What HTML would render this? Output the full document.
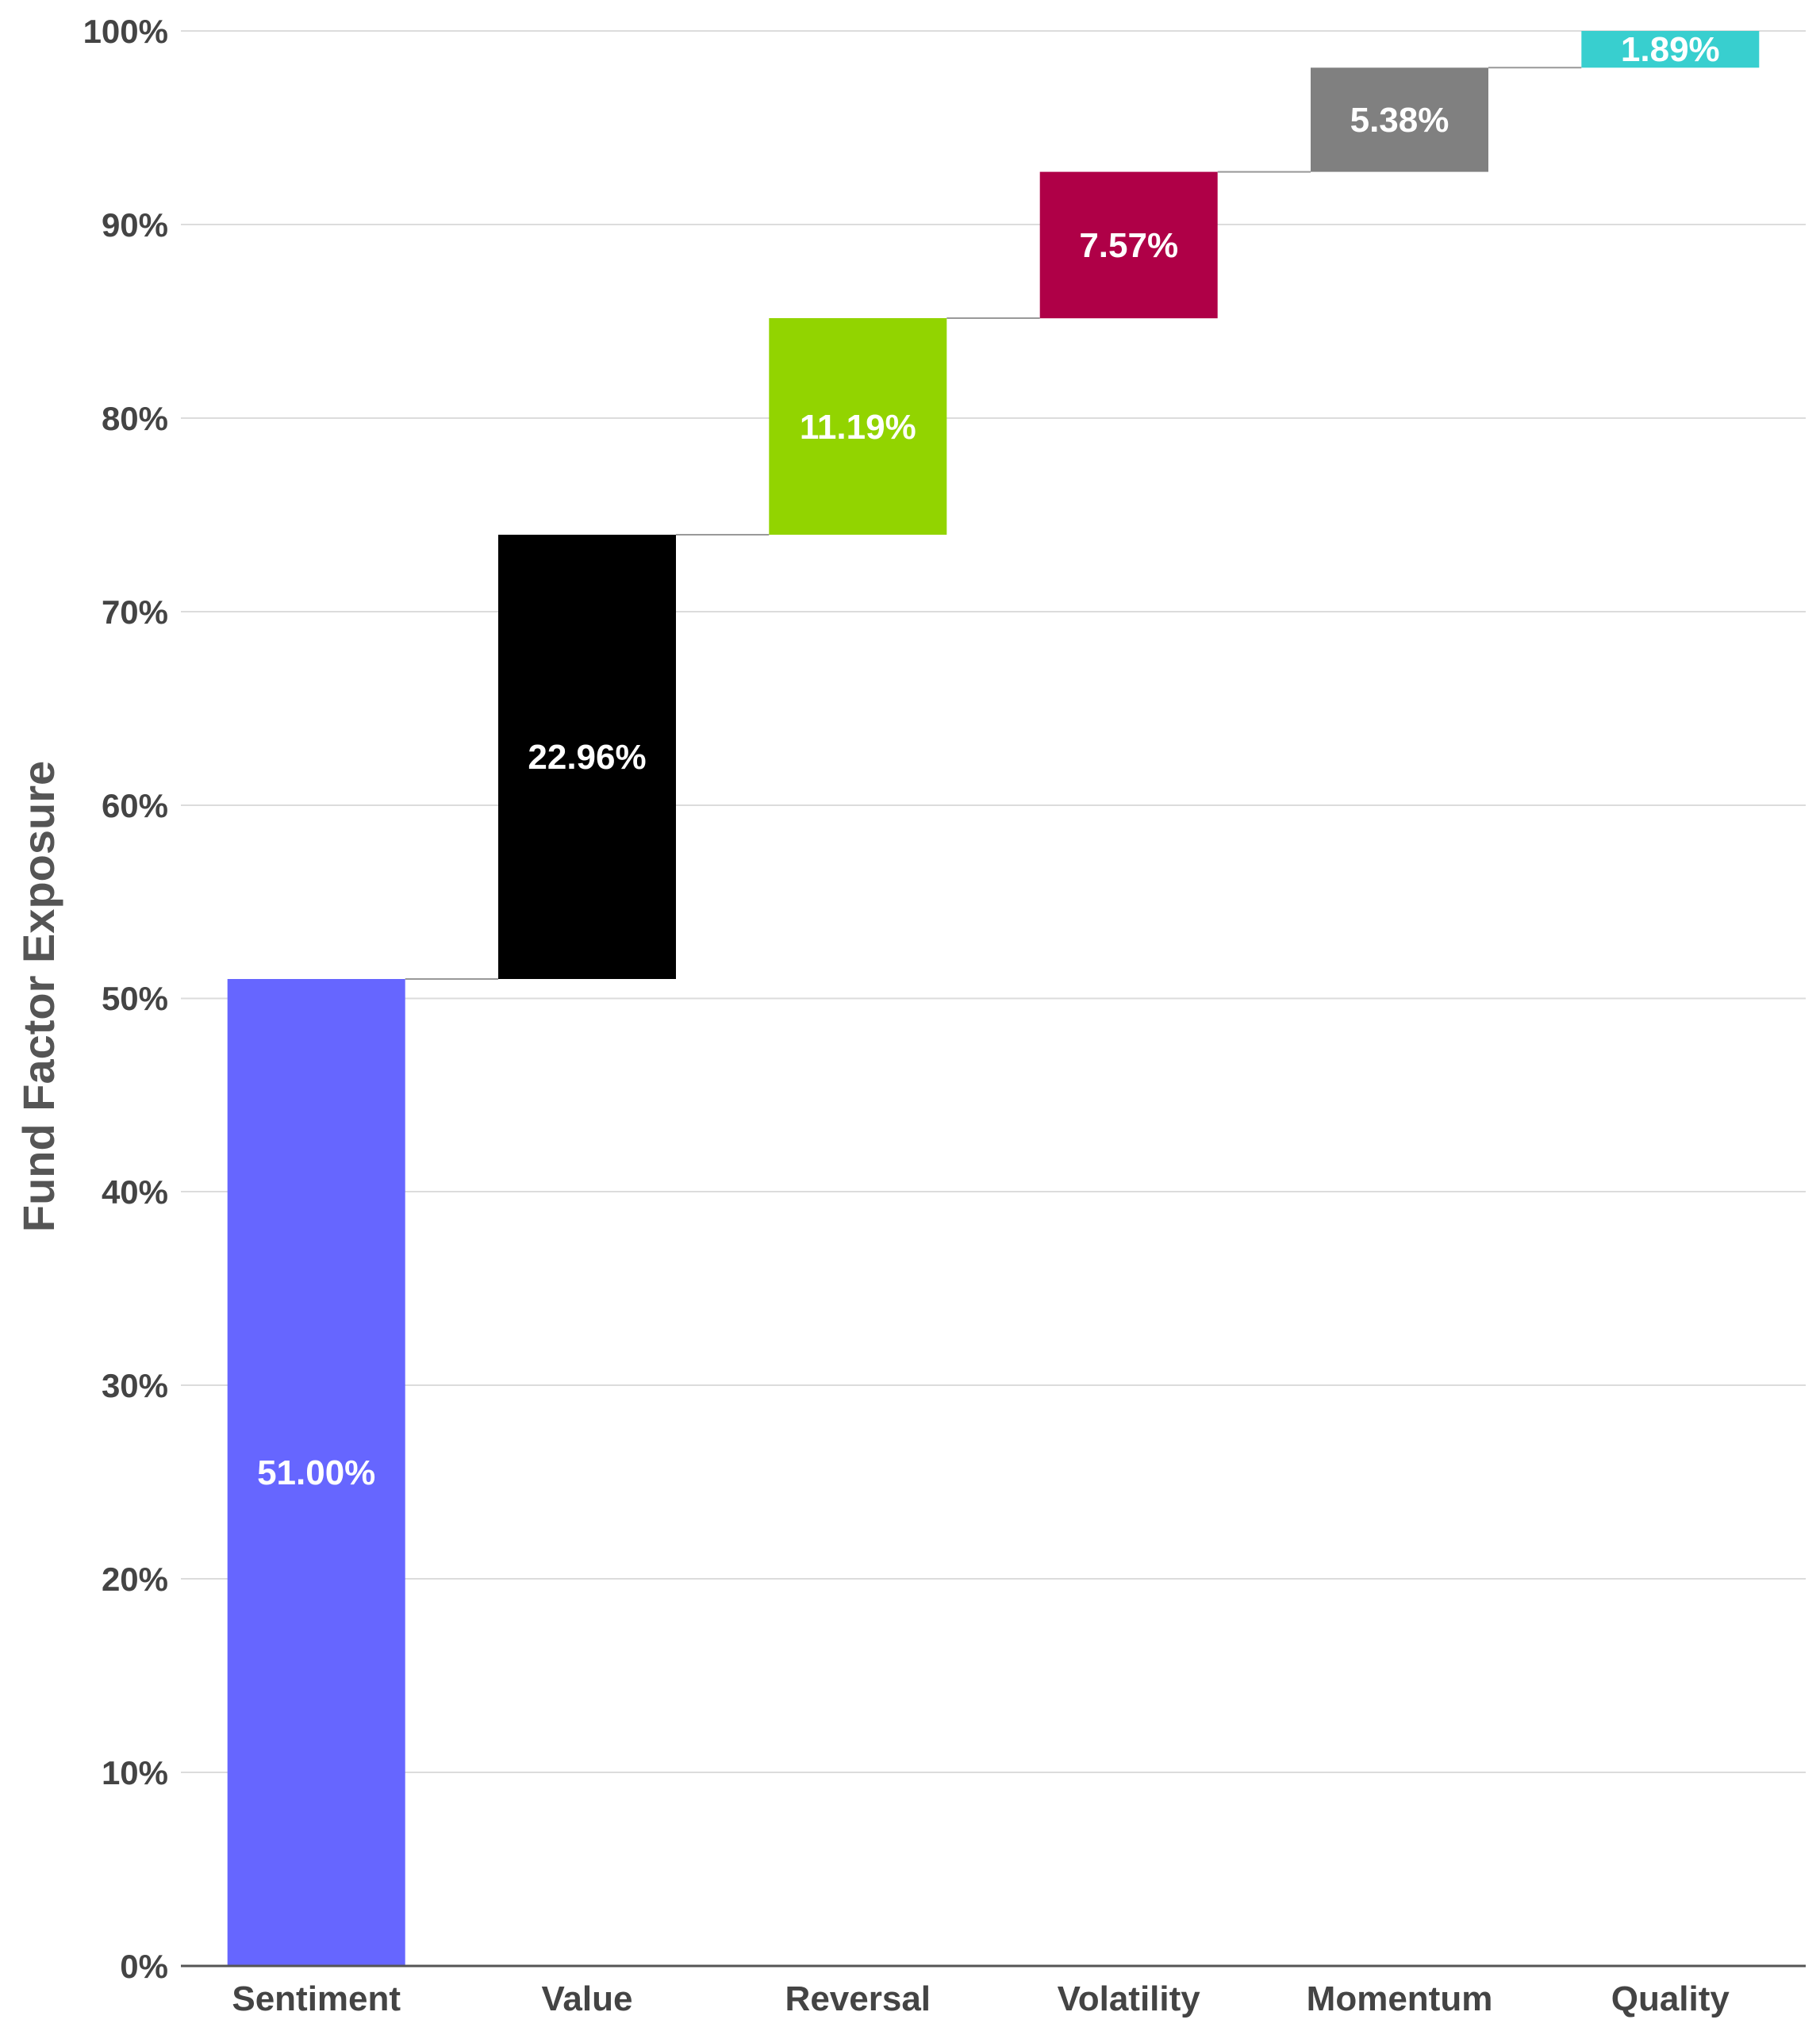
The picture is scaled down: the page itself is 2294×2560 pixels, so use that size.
<!DOCTYPE html>
<html><head><meta charset="utf-8"><style>
html,body{margin:0;padding:0;background:#fff;}
svg{display:block;font-family:"Liberation Sans",sans-serif;}
</style></head><body>
<svg width="2294" height="2560" viewBox="0 0 2294 2560" xmlns="http://www.w3.org/2000/svg">
<g stroke="#dcdcdc" stroke-width="2">
<line x1="228" x2="2276" y1="39" y2="39"/>
<line x1="228" x2="2276" y1="283" y2="283"/>
<line x1="228" x2="2276" y1="527" y2="527"/>
<line x1="228" x2="2276" y1="771" y2="771"/>
<line x1="228" x2="2276" y1="1015" y2="1015"/>
<line x1="228" x2="2276" y1="1258.5" y2="1258.5"/>
<line x1="228" x2="2276" y1="1502" y2="1502"/>
<line x1="228" x2="2276" y1="1746" y2="1746"/>
<line x1="228" x2="2276" y1="1990" y2="1990"/>
<line x1="228" x2="2276" y1="2234" y2="2234"/>
</g>
<g font-size="42" font-weight="bold" fill="#444" text-anchor="end">
<text x="212" y="54">100%</text>
<text x="212" y="298">90%</text>
<text x="212" y="542">80%</text>
<text x="212" y="786">70%</text>
<text x="212" y="1030">60%</text>
<text x="212" y="1273">50%</text>
<text x="212" y="1517">40%</text>
<text x="212" y="1761">30%</text>
<text x="212" y="2005">20%</text>
<text x="212" y="2249">10%</text>
<text x="212" y="2493">0%</text>
</g>
<text transform="translate(68,1256) rotate(-90)" font-size="56" font-weight="bold" fill="#555" text-anchor="middle">Fund Factor Exposure</text>
<rect x="286.7" y="1234" width="224" height="1244" fill="#6666ff"/>
<rect x="628" y="674" width="224" height="560" fill="#000"/>
<rect x="969.3" y="401" width="224" height="273" fill="#92d400"/>
<rect x="1310.7" y="216.6" width="224" height="184.6" fill="#af0047"/>
<rect x="1652" y="85.3" width="224" height="131.3" fill="#808080"/>
<rect x="1993.3" y="39" width="224" height="46.3" fill="#38cfcf"/>
<g stroke="#999" stroke-width="2">
<line x1="510.7" x2="628" y1="1234" y2="1234"/>
<line x1="852" x2="969.3" y1="674" y2="674"/>
<line x1="1193.3" x2="1310.7" y1="401" y2="401"/>
<line x1="1534.7" x2="1652" y1="216.6" y2="216.6"/>
<line x1="1876" x2="1993.3" y1="85.3" y2="85.3"/>
</g>
<line x1="228" x2="2276" y1="2478" y2="2478" stroke="#555" stroke-width="3"/>
<g font-size="44" font-weight="bold" fill="#fff" text-anchor="middle">
<text x="398.7" y="1871">51.00%</text>
<text x="740" y="969">22.96%</text>
<text x="1081.3" y="553">11.19%</text>
<text x="1422.7" y="324">7.57%</text>
<text x="1764" y="166">5.38%</text>
<text x="2105.3" y="77">1.89%</text>
</g>
<g font-size="44" font-weight="bold" fill="#444" text-anchor="middle">
<text x="398.7" y="2534">Sentiment</text>
<text x="740" y="2534">Value</text>
<text x="1081.3" y="2534">Reversal</text>
<text x="1422.7" y="2534">Volatility</text>
<text x="1764" y="2534">Momentum</text>
<text x="2105.3" y="2534">Quality</text>
</g>
</svg>
</body></html>
